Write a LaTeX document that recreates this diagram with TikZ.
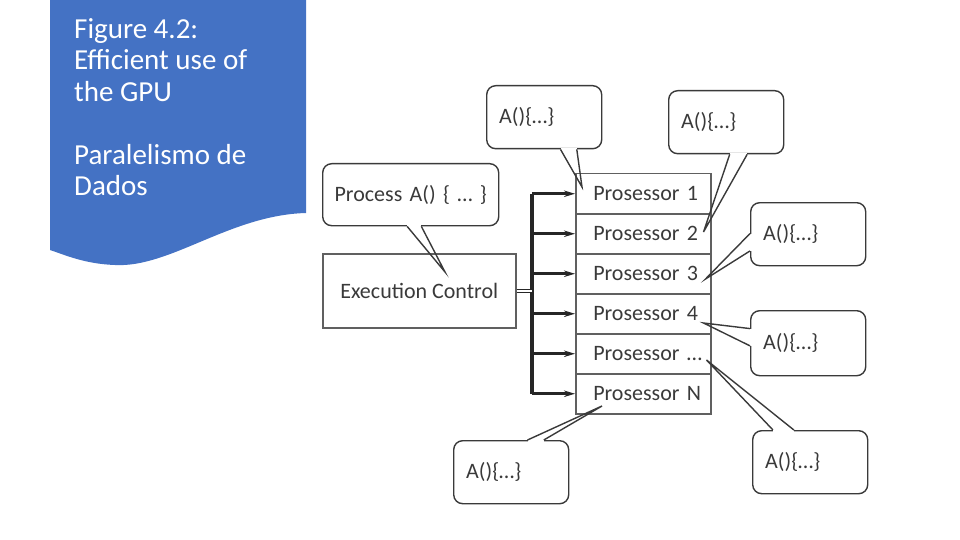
\documentclass[tikz,border=0pt]{standalone}
\usepackage{fontspec}
\setmainfont{Carlito}
\usetikzlibrary{arrows.meta,calc,positioning}
\definecolor{SlideBlue}{HTML}{4472C4}
\definecolor{ScanInk}{HTML}{3A3A3A}
\definecolor{ScanLine}{HTML}{606060}

\tikzset{
  procbox/.style={draw=ScanLine, line width=1.5pt, anchor=north west,
    minimum width=135pt, minimum height=40pt, inner xsep=0pt,
    text width=135pt, align=left, text=ScanInk,
    execute at begin node=\hspace*{17.5pt},
    font=\fontsize{22}{24}\selectfont},
  ctrlbox/.style={draw=ScanLine, line width=1.5pt, anchor=north west,
    text=ScanInk, font=\fontsize{22}{24}\selectfont},
  bubble/.style={draw=ScanInk, line width=1.4pt, rounded corners=9pt,
    anchor=north west, minimum width=115pt, minimum height=63pt,
    inner xsep=12.5pt, text width=90pt, align=left, text=ScanInk,
    font=\fontsize{22}{24}\selectfont},
  busline/.style={line width=3.2pt, draw=black!85},
  flow/.style={busline, -{Stealth[length=11pt,width=6.5pt]}},
}

% tail of a callout: erase the border between the two base points, draw the wedge
\newcommand{\tail}[3]{%
  \draw[white, line width=3.2pt] (#1) -- (#2);
  \draw[ScanInk, line width=1.4pt, line join=miter] (#1) -- (#3) -- (#2);
}

\begin{document}
\begin{tikzpicture}[x=1pt, y=-1pt]
    \useasboundingbox (0,0) rectangle (960,540);

    % slide title panel
    \fill[SlideBlue] (50,0) -- (306,0) -- (306,213)
        .. controls (230,215) and (170,268) .. (115,265)
        .. controls (85,264) and (65,255) .. (50,250) -- cycle;
    \node[anchor=north west, inner sep=0pt, align=left, text=white,
        font=\fontsize{29}{31.5}\selectfont] (title) at (74,18)
        {Figure 4.2:\\Efficient use of\\the GPU\\[31.5pt]Paralelismo de\\Dados};

    % processors
    \foreach \lbl [count=\i] in {1,2,3,4,\ldots,N}
        \node[procbox] (p\i) at (575,{173+40*(\i-1)}) {Prosessor \lbl};

    % execution control and bus
    \node[ctrlbox, minimum width=193pt, minimum height=74pt] (exec) at (322,253) {Execution Control};
    \coordinate (bus) at (532,0);
    \draw[busline] (p1.west -| bus) -- (p6.west -| bus);
    \draw[line width=1.2pt, double=white, double distance=2pt, draw=black!85]
        (exec.east) -- (exec.east -| bus);
    \foreach \i in {1,...,6}
        \draw[flow] (p\i.west -| bus) -- (p\i.west);

    % callouts
    \node[bubble, minimum width=176pt, minimum height=62pt, inner xsep=3pt,
        text width=170pt, align=center] (proc) at (322,163) {Process A() \{ \ldots\ \}};
    \node[bubble] (c1) at (486,85) {A()\{\ldots\}};
    \node[bubble] (c2) at (668,90) {A()\{\ldots\}};
    \node[bubble] (c3) at (750,202) {A()\{\ldots\}};
    \node[bubble, minimum height=65pt] (c4) at (750,310) {A()\{\ldots\}};
    \node[bubble] (c5) at (752,430) {A()\{\ldots\}};
    \node[bubble] (c6) at (453,440) {A()\{\ldots\}};

    \tail{$(proc.south west)!0.48!(proc.south east)$}{$(proc.south west)!0.56!(proc.south east)$}{$(exec.north west)+(123,19)$}
    \tail{$(c1.south west)!0.64!(c1.south east)$}{$(c1.south west)!0.78!(c1.south east)$}{$(p1.north west)+(7,14)$}
    \tail{$(c2.south west)!0.53!(c2.south east)$}{$(c2.south west)!0.68!(c2.south east)$}{$(p2.north east)+(-8,19)$}
    \tail{$(c3.north west)!0.49!(c3.south west)$}{$(c3.north west)!0.76!(c3.south west)$}{$(p3.north east)+(-6,26)$}
    \tail{$(c4.north west)!0.28!(c4.south west)$}{$(c4.north west)!0.54!(c4.south west)$}{$(p4.north east)+(-8,30)$}
    \tail{$(c5.north west)!0.18!(c5.north east)$}{$(c5.north west)!0.36!(c5.north east)$}{$(p5.north east)+(-5,27)$}
    \tail{$(c6.north west)!0.64!(c6.north east)$}{$(c6.north west)!0.78!(c6.north east)$}{$(p6.north west)+(27,33)$}
\end{tikzpicture}
\end{document}
